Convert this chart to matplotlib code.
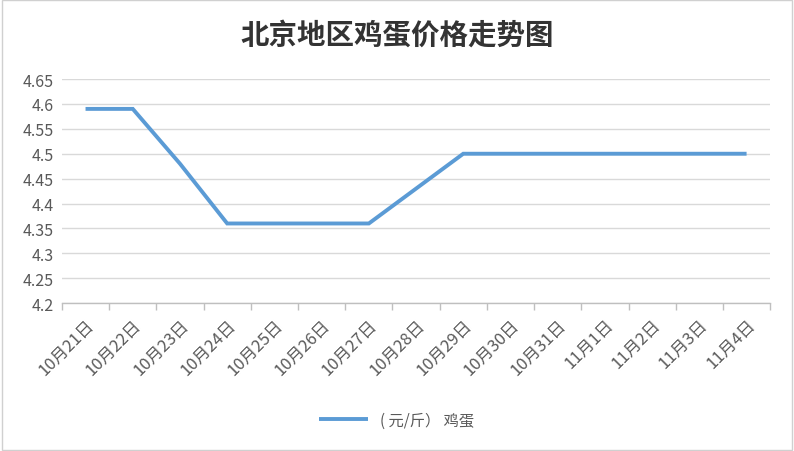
import numpy as np
from matplotlib import pyplot as plt
from matplotlib.patches import Rectangle

plt.rcParams['font.family'] = ['Noto Sans CJK SC', 'DejaVu Sans']

# dados
datas = ["10月21日", "10月22日", "10月23日", "10月24日", "10月25日", "10月26日",
         "10月27日", "10月28日", "10月29日", "10月30日", "10月31日", "11月1日",
         "11月2日", "11月3日", "11月4日"]
precos = [4.59, 4.59, 4.48, 4.36, 4.36, 4.36, 4.36, 4.43, 4.5, 4.5, 4.5, 4.5,
          4.5, 4.5, 4.5]

cinza = "#595959"
azul = "#5B9BD5"

fig = plt.figure(figsize=(7.94, 4.52), dpi=100)
ax = fig.add_axes([0.078, 0.327, 0.892, 0.496])

x = np.arange(len(datas))
ax.plot(x, precos, color=azul, linewidth=2.8, label="( 元/斤） 鸡蛋",
        solid_capstyle="butt", solid_joinstyle="miter")

ax.set_xlim(-0.5, len(datas) - 0.5)
ax.set_ylim(4.2, 4.65)
yt = np.round(np.arange(4.2, 4.651, 0.05), 2)
ax.set_yticks(yt)
ax.set_yticklabels([f"{v:g}" for v in yt])
ax.grid(axis="y", color="#D9D9D9", linewidth=1)
ax.set_axisbelow(True)

ax.set_xticks(x)
ax.set_xticklabels(datas, rotation=45, ha="right", rotation_mode="anchor")
ax.set_xticks(np.arange(-0.5, len(datas), 1), minor=True)
ax.tick_params(axis="x", which="major", length=0, pad=9, labelsize=12, labelcolor=cinza)
ax.tick_params(axis="x", which="minor", length=5, color="#BFBFBF", width=1)
ax.tick_params(axis="y", length=0, labelsize=11.5, labelcolor=cinza, pad=6)

for s in ["top", "right", "left"]:
    ax.spines[s].set_visible(False)
ax.spines["bottom"].set_color("#BFBFBF")
ax.spines["bottom"].set_linewidth(1)

fig.text(0.5, 0.922, "北京地区鸡蛋价格走势图", ha="center", va="center",
         fontsize=20.5, fontweight="bold", color="#333333")

fig.legend(loc="center", bbox_to_anchor=(0.5, 0.068), frameon=False,
           fontsize=11, labelcolor=cinza, handlelength=3.2)

fig.patches.append(Rectangle((0.002, 0.003), 0.996, 0.994, transform=fig.transFigure,
                             fill=False, edgecolor="#D0D0D0", linewidth=1))

fig.savefig("out.png", dpi=100)
